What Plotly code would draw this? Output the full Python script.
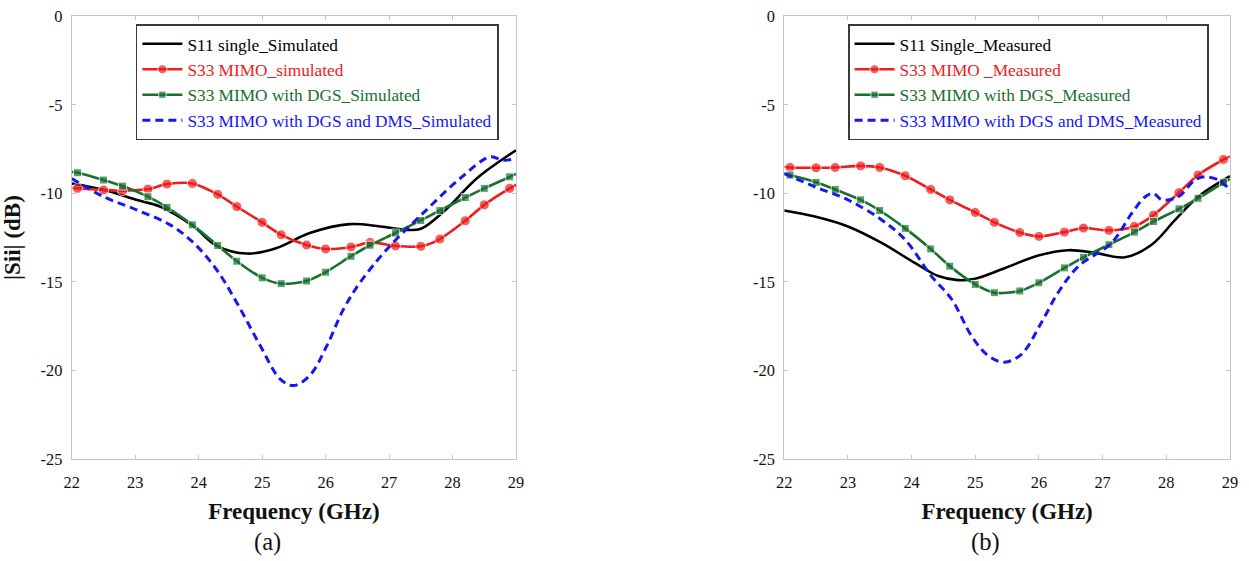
import plotly.graph_objects as go

# ---------------- data ----------------
# marker frequencies (GHz) incl. curve end points 22 and 29
freq_mark = [22.0, 22.09, 22.5, 22.8, 23.2, 23.5, 23.9, 24.3, 24.6, 25.0, 25.3, 25.7,
             26.0, 26.4, 26.7, 27.1, 27.5, 27.8, 28.2, 28.5, 28.9, 29.0]

# (a) simulated
sim_s11_x = [22.0, 22.5, 23.0, 23.39, 23.92, 24.28, 24.76, 25.23, 25.75, 26.38, 26.86,
             27.28, 27.5, 27.9, 28.38, 29.0]
sim_s11_y = [-9.44, -9.8, -10.35, -10.75, -11.87, -12.95, -13.4, -13.08, -12.24, -11.74,
             -11.87, -12.06, -12.0, -10.9, -9.16, -7.57]
sim_mimo_y = [-9.7, -9.72, -9.81, -9.85, -9.76, -9.48, -9.44, -10.06, -10.75, -11.64,
              -12.34, -12.92, -13.14, -13.03, -12.77, -12.97, -12.99, -12.58, -11.55,
              -10.65, -9.72, -9.53]
sim_dgs_y = [-8.8, -8.84, -9.25, -9.59, -10.19, -10.79, -11.78, -12.95, -13.83, -14.77,
             -15.10, -14.95, -14.45, -13.55, -12.93, -12.24, -11.53, -10.97, -10.24,
             -9.72, -9.07, -8.9]
sim_dms_x = [22.0, 22.5, 23.02, 23.55, 23.92, 24.28, 24.6, 24.97, 25.28, 25.49, 25.75,
             26.02, 26.28, 26.54, 26.96, 27.59, 28.12, 28.59, 28.8, 29.0]
sim_dms_y = [-9.16, -10.19, -10.93, -11.78, -12.8, -14.3, -16.17, -18.6, -20.47, -20.85,
             -20.28, -18.6, -16.55, -15.05, -13.18, -10.93, -9.16, -7.94, -8.13, -8.04]

# (b) measured
meas_s11_x = [22.0, 22.48, 23.0, 23.53, 24.05, 24.42, 24.73, 25.0, 25.47, 25.99, 26.46,
              26.88, 27.35, 27.77, 28.14, 28.5, 29.0]
meas_s11_y = [-10.97, -11.31, -11.87, -12.8, -13.93, -14.67, -14.9, -14.82, -14.21,
              -13.51, -13.21, -13.36, -13.61, -12.9, -11.5, -10.19, -9.03]
meas_mimo_y = [-8.5, -8.54, -8.56, -8.54, -8.45, -8.54, -9.01, -9.78, -10.37, -11.08,
               -11.64, -12.21, -12.43, -12.19, -11.96, -12.09, -11.87, -11.23, -9.96,
               -8.97, -8.09, -7.91]
meas_dgs_y = [-8.9, -8.97, -9.38, -9.78, -10.37, -10.97, -11.98, -13.14, -14.11, -15.14,
              -15.61, -15.51, -15.05, -14.21, -13.61, -12.9, -12.19, -11.59, -10.88,
              -10.28, -9.4, -9.2]
meas_dms_x = [22.0, 22.48, 23.0, 23.53, 23.9, 24.31, 24.63, 24.94, 25.2, 25.46, 25.73,
              26.04, 26.3, 26.62, 27.14, 27.46, 27.67, 27.8, 27.93, 28.19, 28.45, 28.6,
              28.82, 29.0]
meas_dms_y = [-8.88, -9.63, -10.37, -11.5, -12.62, -14.67, -15.98, -18.04, -19.16, -19.53,
              -19.07, -17.29, -15.61, -14.12, -12.8, -11.12, -10.19, -10.0, -10.37,
              -10.19, -9.25, -9.07, -9.25, -9.81]

names_a = ["S11 single_Simulated", "S33 MIMO_simulated", "S33 MIMO with DGS_Simulated",
           "S33 MIMO with DGS and DMS_Simulated"]
names_b = ["S11 Single_Measured", "S33 MIMO _Measured", "S33 MIMO with DGS_Measured",
           "S33 MIMO with DGS and DMS_Measured"]
x_ticks = [22, 23, 24, 25, 26, 27, 28, 29]
y_ticks = [0, -5, -10, -15, -20, -25]
y_ticktext = ["0", "-5", "-10", "-15", "-20", "-25"]

# ---------------- style ----------------
W, H = 1249, 561
# the page (with its default 8px body margin) is photographed and scaled to the window
SX, SY, OFF = W / (W + 16), H / (H + 16), 8
BLACK, RED, GREEN, BLUE = "#000000", "#ee1c1c", "#17702e", "#1717ee"
SERIF = "'Liberation Serif', 'Times New Roman', Times, 'DejaVu Serif', serif"
AX = "#c4c4c4"


def px_x(p):
    return (p / SX - OFF) / W


def px_y(p):
    return 1 - (p / SY - OFF) / H


def msizes(n, s):
    return [0] + [s] * (n - 2) + [0]


fig = go.Figure()


def add_set(xa, ya, legend, names, s11x, s11y, mimoy, dgsy, dmsx, dmsy):
    cols = [BLACK, RED, GREEN, BLUE]
    lab = [f'<span style="color:{c}">{n}</span>' for c, n in zip(cols, names)]
    common = dict(xaxis=xa, yaxis=ya, legend=legend)
    fig.add_trace(go.Scatter(x=s11x, y=s11y, mode="lines", name=lab[0],
                             line=dict(color=BLACK, width=2.6, shape="spline", smoothing=1),
                             **common))
    fig.add_trace(go.Scatter(x=freq_mark, y=mimoy, mode="lines+markers", name=lab[1],
                             line=dict(color=RED, width=2.6, shape="spline", smoothing=0.8),
                             marker=dict(symbol="circle", size=msizes(len(freq_mark), 10), color=RED),
                             **common))
    fig.add_trace(go.Scatter(x=freq_mark, y=dgsy, mode="lines+markers", name=lab[2],
                             line=dict(color=GREEN, width=2.6, shape="spline", smoothing=0.8),
                             marker=dict(symbol="square", size=msizes(len(freq_mark), 8), color=GREEN),
                             **common))
    fig.add_trace(go.Scatter(x=dmsx, y=dmsy, mode="lines", name=lab[3],
                             line=dict(color=BLUE, width=3, dash="8px,5px", shape="spline", smoothing=1),
                             **common))


add_set("x", "y", "legend", names_a, sim_s11_x, sim_s11_y, sim_mimo_y, sim_dgs_y, sim_dms_x, sim_dms_y)
add_set("x2", "y2", "legend2", names_b, meas_s11_x, meas_s11_y, meas_mimo_y, meas_dgs_y, meas_dms_x, meas_dms_y)

tickfont = dict(family=SERIF, size=16.4, color="#111111")
titlefont = dict(family=SERIF, size=23, color="#111111")


def xaxis(dom, anchor):
    return dict(domain=dom, anchor=anchor, range=[22, 29], tickvals=x_ticks,
                showline=True, linecolor=AX, linewidth=1.2, mirror="ticks",
                ticks="inside", ticklen=4, tickcolor=AX, showgrid=False, zeroline=False,
                tickfont=tickfont, ticklabelstandoff=8, ticklabeloverflow="allow",
                title=dict(text="<b>Frequency (GHz)</b>", font=titlefont, standoff=12))


def yaxis(dom, anchor, title):
    d = dict(domain=dom, anchor=anchor, range=[-25, 0], tickvals=y_ticks, ticktext=y_ticktext,
             showline=True, linecolor=AX, linewidth=1.2, mirror="ticks",
             ticks="inside", ticklen=4, tickcolor=AX, showgrid=False, zeroline=False,
             tickfont=tickfont, ticklabelstandoff=5, ticklabeloverflow="allow")
    if title:
        d["title"] = dict(text="<b>|Sii| (dB)</b>", font=titlefont, standoff=19)
    return d


ydom = [px_y(460.7), px_y(15)]
legend_common = dict(font=dict(family=SERIF, size=17.3), bgcolor="white",
                     bordercolor="#3a3a3a", borderwidth=1.6, xanchor="left", yanchor="top",
                     tracegroupgap=0, itemwidth=40)

fig.update_layout(
    width=W, height=H, autosize=False, margin=dict(l=0, r=0, t=0, b=0),
    paper_bgcolor="white", plot_bgcolor="white",
    xaxis=xaxis([px_x(71.7), px_x(516)], "y"),
    yaxis=yaxis(ydom, "x", True),
    xaxis2=xaxis([px_x(784.3), px_x(1230)], "y2"),
    yaxis2=yaxis(ydom, "x2", False),
    legend=dict(x=px_x(135.7), y=px_y(23.3), **legend_common),
    legend2=dict(x=px_x(848), y=px_y(23.3), **legend_common),
    annotations=[
        dict(text="(a)", x=px_x(267), y=px_y(544), xref="paper", yref="paper",
             xanchor="center", yanchor="middle",
             showarrow=False, font=dict(family=SERIF, size=24.5, color="#111111")),
        dict(text="(b)", x=px_x(986), y=px_y(544), xref="paper", yref="paper",
             xanchor="center", yanchor="middle",
             showarrow=False, font=dict(family=SERIF, size=24.5, color="#111111")),
    ],
)

fig.write_html("out.html")
